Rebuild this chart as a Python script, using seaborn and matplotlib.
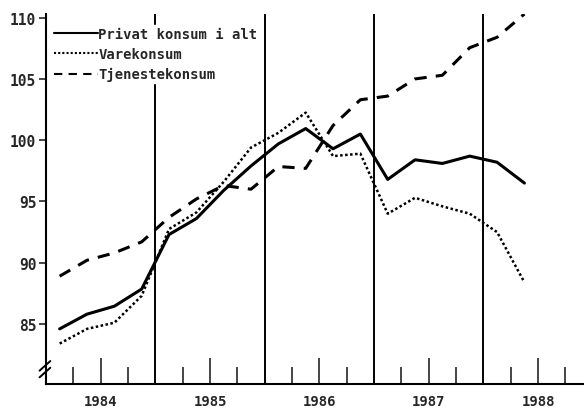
import numpy as np
import pandas as pd
import matplotlib
matplotlib.use("Agg")
import matplotlib.pyplot as plt
import seaborn as sns

years = [1984]*4 + [1985]*4 + [1986]*4 + [1987]*4 + [1988]*2
quarters = [1, 2, 3, 4]*4 + [1, 2]
privat = [84.6, 85.8, 86.45, 87.85, 92.3, 93.6, 95.9, 97.9, 99.7, 100.95, 99.3, 100.5,
          96.8, 98.4, 98.1, 98.7, 98.2, 96.5]
vare = [83.4, 84.6, 85.1, 87.3, 92.75, 94.1, 96.6, 99.4, 100.6, 102.25, 98.7, 98.9,
        94.0, 95.3, 94.6, 94.0, 92.5, 88.4]
tjeneste = [88.9, 90.2, 90.8, 91.7, 93.7, 95.2, 96.3, 96.0, 97.85, 97.7, 101.2, 103.3,
            103.6, 105.0, 105.3, 107.55, 108.4, 110.3]
series_names = ["Privat konsum i alt", "Varekonsum", "Tjenestekonsum"]
year_labels = ["1984", "1985", "1986", "1987", "1988"]
ytick_values = [85, 90, 95, 100, 105, 110]

sns.set_style("white")
plt.rcParams["font.family"] = ["DejaVu Sans Mono", "DejaVu Sans"]

t = [y + (q - 0.5) / 4 for y, q in zip(years, quarters)]
df = pd.concat([
    pd.DataFrame({"t": t, "v": privat, "s": series_names[0]}),
    pd.DataFrame({"t": t, "v": vare, "s": series_names[1]}),
    pd.DataFrame({"t": t, "v": tjeneste, "s": series_names[2]}),
])

fig = plt.figure(figsize=(5.84, 4.10), dpi=100)
ax = fig.add_axes([46/584, 25/410, 1 - 46/584, 370/410])

styles = {series_names[0]: "", series_names[1]: (1, 1), series_names[2]: (4, 3)}
sns.lineplot(data=df, x="t", y="v", hue="s", style="s", dashes=styles,
             palette=["black"]*3, ax=ax, legend=True)
for ln, lw in zip(ax.get_lines()[:3], [2.2, 1.8, 2.2]):
    ln.set_linewidth(lw)

# year boundary lines
for yb in [1985, 1986, 1987, 1988]:
    ax.axvline(yb, color="black", lw=1.4, zorder=1)

ax.set_xlim(1984.0, 1988.92)
ax.set_ylim(80.1, 110.3)

ax.set_yticks(ytick_values)
ax.set_yticklabels([str(v) for v in ytick_values], fontsize=10.5, fontweight="bold")
ax.tick_params(axis="y", direction="out", length=5, width=1.2, pad=2, left=True)

mids = [int(y) + 0.5 for y in year_labels]
ax.set_xticks(mids)
ax.set_xticklabels(year_labels, fontsize=10, fontweight="bold")
ax.tick_params(axis="x", direction="in", length=19, width=1.2, pad=7, bottom=True)
minor = [int(y) + q for y in year_labels for q in (0.25, 0.75)]
ax.set_xticks(minor, minor=True)
ax.tick_params(axis="x", which="minor", direction="in", length=12, width=1.2, bottom=True)

ax.set_xlabel("")
ax.set_ylabel("")
for s in ["top", "right"]:
    ax.spines[s].set_visible(False)
for s in ["left", "bottom"]:
    ax.spines[s].set_color("black")
    ax.spines[s].set_linewidth(1.5)

# axis break marks
for y0 in (0.018, 0.036):
    ax.plot([-0.012, 0.008], [y0, y0 + 0.026], transform=ax.transAxes,
            color="black", lw=1.4, clip_on=False)

h, l = ax.get_legend_handles_labels()
leg = ax.legend(h, l, loc="upper left", bbox_to_anchor=(-0.002, 0.99), frameon=True,
                framealpha=1, edgecolor="white", fancybox=False, handlelength=3.2,
                handletextpad=0.0, borderpad=0.15, labelspacing=0.45,
                prop={"family": "DejaVu Sans Mono", "weight": "bold", "size": 10})
leg.set_zorder(5)

fig.savefig("out.png", dpi=100)
